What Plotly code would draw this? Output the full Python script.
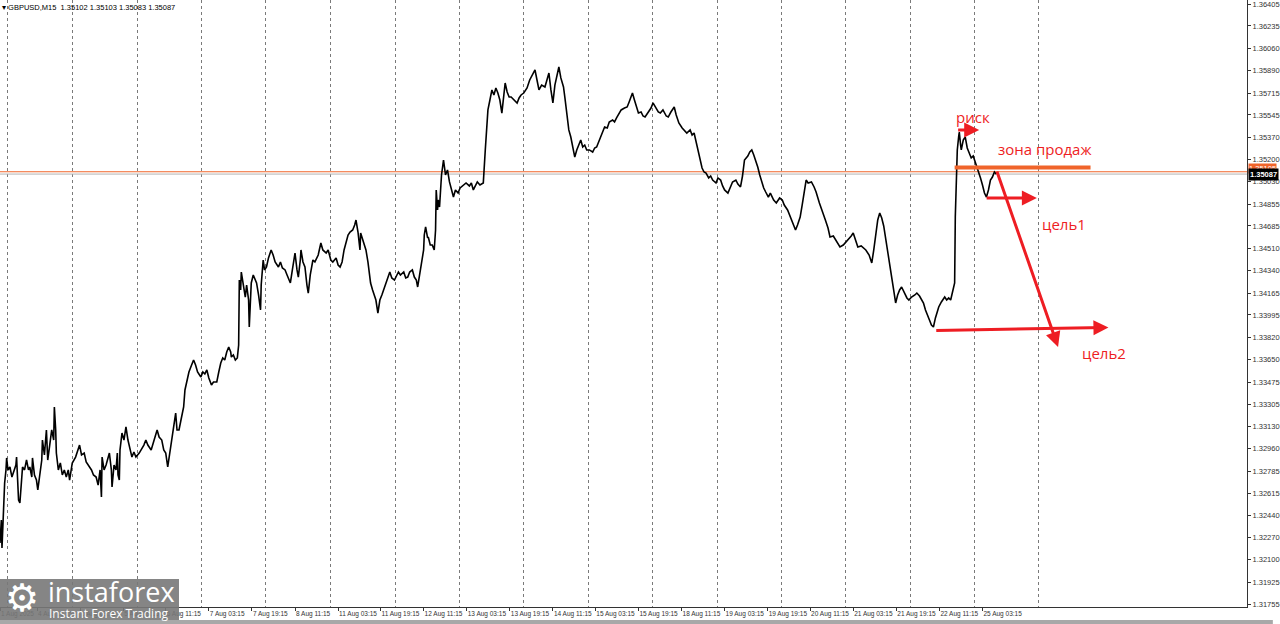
import plotly.graph_objects as go

# ---------------- data (bar index, close price) ----------------
bars = [0,2,3,4,6,7,9,10,12,15,18,21,24,25,27,28,30,31,34,37,40,43,45,48,49,52,55,57,60,63,64,67,70,72,75,78,81,82,84,85,
        88,91,94,97,100,103,105,108,109,114,117,120,123,127,130,135,138,141,145,148,151,153,154,157,160,165,168,169,172,175,
        177,178,180,181,184,187,190,193,196,199,202,205,210,213,217,220,223,228,232,237,240,244,247,250,253,255,259,262,265,267,
        270,273,277,279,282,285,289,292,295,298,303,306,309,312,315,319,322,327,330,333,336,339,342,345,348,349,352,355,358,360,
        361,363,364,367,370,372,375,376,378,379,382,385,387,390,393,394,397,399,402,405,409,412,415,420,423,426,430,433,438,441,
        444,445,448,450,453,454,457,460,463,465,468,472,475,480,484,487,492,495,499,502,507,510,513,516,519,522,525,528,532,535,
        537,540,543,544,547,552,555,559,562,565,567,570,573,576,580,583,588,591,595,598,601,604,609,612,615,618,622,625,628,630,
        633,636,637,639,640,642,645,646,649,652,655,657,658,660,661,663,666,669,672,675,678,681,684,687,691,694,699,703,708,711,
        714,717,720,724,729,732,735,736,739,742,745,748,751,754,757,760,762,765,768,771,775,780,783,786,790,795,799,802,807,810,
        813,817,822,825,828,831,834,837,840,843,846,850,852,855,858,861,864,867,870,873,876,879,882,885,889,894,897,900,904,909,
        912,916,919,924,927,930,934,937,942,946,949,954,957,960,963,967,970,973,978,982,985,990,993,996,1000,1005,1008,1012,1017,1020,
        1024,1029,1033,1036,1041,1044,1047,1051,1056,1059,1062,1065,1069,1072,1075,1080,1083,1087,1090,1093,1098,1101,1105,1110,1113,1117,
        1120,1123,1128,1131,1134,1137,1140,1143,1146,1149,1152,1155,1159,1162,1167,1171,1176,1180,1183,1188,1191,1195,1200,1203,1207,1210,
        1213,1216,1219,1224,1228,1231,1236,1239,1242,1245,1249,1252,1257,1261,1264,1267,1272,1275,1279,1284,1287,1291,1294,1299,1303,1306,
        1311,1315,1318,1321,1324,1327,1330,1333,1336,1339,1342,1345,1348,1351,1354,1357,1360,1365,1368,1371,1375,1380,1383,1387,1390,1393,
        1396,1399,1402,1405,1408,1411,1414,1416,1420,1425,1428,1431,1434,1437,1440,1441,1443,1444,1446,1447,1449,1450,1453,1456,1459,1462,
        1465,1468,1470,1473,1476,1479,1482,1485,1488,1491,1494,1497,1500,1503]

close = [1.32228,1.32406,1.32189,1.32329,1.32561,1.32693,1.32794,1.32887,1.32794,1.32817,1.32739,1.32794,1.32832,1.32894,1.32716,1.32561,1.32538,1.32600,1.32817,1.32794,
         1.32871,1.32794,1.32817,1.32739,1.32887,1.32755,1.32716,1.32639,1.32739,1.32871,1.33026,1.32910,1.33104,1.32871,1.32987,1.33104,1.33026,1.33282,1.33104,1.32925,
         1.32794,1.32848,1.32755,1.32794,1.32739,1.32794,1.32716,1.32794,1.32848,1.32894,1.32949,1.32987,1.32910,1.32925,1.32856,1.32817,1.32794,1.32755,1.32739,1.32677,
         1.32794,1.32584,1.32894,1.32794,1.32832,1.32925,1.32794,1.32662,1.32832,1.32794,1.32925,1.32755,1.32716,1.32949,1.33080,1.33026,1.33127,1.33026,1.32949,1.32894,
         1.32933,1.32894,1.32925,1.32949,1.32987,1.33026,1.32987,1.32949,1.33026,1.33104,1.33049,1.33026,1.32949,1.32925,1.32817,1.32887,1.33026,1.33142,1.33235,1.33104,
         1.33104,1.33181,1.33282,1.33414,1.33491,1.33553,1.33607,1.33646,1.33607,1.33553,1.33514,1.33553,1.33538,1.33569,1.33507,1.33452,1.33476,1.33476,1.33553,1.33623,
         1.33662,1.33646,1.33708,1.33747,1.33708,1.33669,1.33685,1.33646,1.33662,1.33762,1.34266,1.34189,1.34328,1.34227,1.34134,1.34227,1.34111,1.33902,1.34111,1.34243,
         1.34305,1.34266,1.34243,1.34150,1.34034,1.34227,1.34421,1.34344,1.34367,1.34437,1.34499,1.34460,1.34406,1.34367,1.34406,1.34359,1.34344,1.34305,1.34243,1.34344,
         1.34421,1.34475,1.34344,1.34289,1.34421,1.34499,1.34406,1.34367,1.34227,1.34165,1.34305,1.34421,1.34406,1.34460,1.34553,1.34499,1.34475,1.34499,1.34421,1.34406,
         1.34437,1.34382,1.34367,1.34406,1.34499,1.34553,1.34615,1.34638,1.34654,1.34692,1.34731,1.34638,1.34499,1.34630,1.34576,1.34499,1.34406,1.34243,1.34189,1.34150,
         1.34111,1.34010,1.34111,1.34150,1.34212,1.34266,1.34328,1.34282,1.34266,1.34297,1.34328,1.34305,1.34328,1.34282,1.34289,1.34328,1.34344,1.34289,1.34266,1.34212,
         1.34305,1.34406,1.34444,1.34499,1.34615,1.34677,1.34592,1.34599,1.34537,1.34537,1.34499,1.34654,1.34964,1.34809,1.34886,1.34832,1.35080,1.35196,1.35080,1.35119,
         1.35026,1.34964,1.34909,1.34964,1.34940,1.34979,1.35002,1.35018,1.34995,1.35018,1.34964,1.35002,1.35026,1.35002,1.35018,1.35274,1.35506,1.35584,1.35661,1.35739,
         1.35700,1.35754,1.35715,1.35661,1.35560,1.35700,1.35793,1.35723,1.35684,1.35684,1.35661,1.35638,1.35677,1.35700,1.35715,1.35754,1.35816,1.35847,1.35894,1.35816,
         1.35739,1.35777,1.35762,1.35816,1.35870,1.35739,1.35638,1.35777,1.35855,1.35917,1.35832,1.35762,1.35684,1.35529,1.35429,1.35374,1.35289,1.35219,1.35274,1.35312,
         1.35351,1.35297,1.35312,1.35274,1.35274,1.35258,1.35289,1.35297,1.35351,1.35405,1.35452,1.35444,1.35491,1.35506,1.35491,1.35522,1.35560,1.35584,1.35599,1.35607,
         1.35646,1.35715,1.35661,1.35599,1.35560,1.35568,1.35537,1.35529,1.35568,1.35599,1.35638,1.35599,1.35568,1.35560,1.35584,1.35537,1.35529,1.35568,1.35607,1.35545,
         1.35483,1.35444,1.35421,1.35405,1.35429,1.35390,1.35405,1.35312,1.35196,1.35134,1.35103,1.35095,1.35057,1.35072,1.35041,1.35018,1.35057,1.35041,1.34995,1.34964,
         1.34940,1.34979,1.35026,1.35041,1.35010,1.34987,1.35072,1.35196,1.35227,1.35258,1.35274,1.35235,1.35196,1.35142,1.35080,1.35018,1.34979,1.34948,1.34909,1.34940,
         1.34886,1.34863,1.34902,1.34886,1.34847,1.34809,1.34770,1.34716,1.34654,1.34692,1.34754,1.34847,1.34964,1.35041,1.35018,1.35026,1.34987,1.34948,1.34863,1.34824,
         1.34778,1.34731,1.34669,1.34599,1.34607,1.34576,1.34545,1.34522,1.34537,1.34553,1.34576,1.34607,1.34630,1.34576,1.34522,1.34530,1.34514,1.34499,1.34460,1.34398,
         1.34499,1.34599,1.34731,1.34785,1.34747,1.34685,1.34576,1.34499,1.34382,1.34289,1.34189,1.34088,1.34150,1.34189,1.34212,1.34165,1.34127,1.34111,1.34134,1.34150,
         1.34165,1.34142,1.34111,1.34088,1.34034,1.33987,1.33956,1.33917,1.33902,1.33972,1.34034,1.34057,1.34096,1.34134,1.34111,1.34127,1.34111,1.34173,1.34243,1.34754,
         1.35080,1.35274,1.35374,1.35413,1.35312,1.35274,1.35351,1.35374,1.35289,1.35250,1.35212,1.35227,1.35196,1.35157,1.35119,1.35057,1.35002,1.34940,1.34909,1.34964,
         1.35041,1.35064,1.35103,1.35087]

header_text = "GBPUSD,M15  1.35102 1.35103 1.35083 1.35087"
last_close = 1.35087
user_level = 1.35105

# right price scale labels
price_ticks = [1.36405, 1.36235, 1.36060, 1.35890, 1.35715, 1.35545, 1.35370, 1.35200, 1.35030, 1.34855,
               1.34685, 1.34510, 1.34340, 1.34165, 1.33995, 1.33820, 1.33650, 1.33475, 1.33305, 1.33130,
               1.32960, 1.32785, 1.32615, 1.32440, 1.32270, 1.32100, 1.31925, 1.31755]

# time scale labels (bar index, text)
time_tick_bars = [0, 56, 121, 186, 250, 315, 380, 445, 510, 574, 639, 704, 769, 834, 898, 963,
                  1028, 1093, 1158, 1222, 1287, 1352, 1417, 1482]
time_tick_text = ["1 Aug 2025", "4 Aug 11:15", "5 Aug 03:15", "5 Aug 19:15", "6 Aug 11:15", "7 Aug 03:15",
                  "7 Aug 19:15", "8 Aug 11:15", "11 Aug 03:15", "11 Aug 19:15", "12 Aug 11:15", "13 Aug 03:15",
                  "13 Aug 19:15", "14 Aug 11:15", "15 Aug 03:15", "15 Aug 19:15", "18 Aug 11:15", "19 Aug 03:15",
                  "19 Aug 19:15", "20 Aug 11:15", "21 Aug 03:15", "21 Aug 19:15", "22 Aug 11:15", "25 Aug 03:15"]

# vertical chart grid (bar index)
grid_bars = [12, 110, 207, 304, 401, 499, 596, 693, 790, 887, 984, 1082, 1179, 1276, 1373, 1470, 1567]

# hand-drawn trade plan objects
sell_zone_bars = [1440, 1645]
sell_zone_price = 1.35138
risk_bars = [1443, 1477]
risk_price = 1.35429
target1_bars = [1486, 1564]
target1_price = 1.34902
target2_bars = [1410, 1672]
target2_prices = [1.33875, 1.33898]
move_bars = [1503, 1596]
move_prices = [1.35119, 1.33747]

labels_text = ["риск", "зона продаж", "цель1", "цель2"]
labels_bars = [1467, 1575, 1605, 1666]
labels_prices = [1.35529, 1.35281, 1.34700, 1.33700]

X_RANGE = [0, 1881]
Y_RANGE = [1.31732, 1.36436]

RED = "#ee1d23"
ORANGE = "#f0642a"

fig = go.Figure()

# bid line and user horizontal line
fig.add_trace(go.Scatter(x=X_RANGE, y=[last_close, last_close], mode="lines",
                         line=dict(color="#b4b4b4", width=1), hoverinfo="skip", showlegend=False))
fig.add_trace(go.Scatter(x=X_RANGE, y=[user_level, user_level], mode="lines",
                         line=dict(color=ORANGE, width=1), hoverinfo="skip", showlegend=False))

# price line
fig.add_trace(go.Scatter(x=bars, y=close, mode="lines", line=dict(color="black", width=1.6),
                         showlegend=False))

# sell zone
fig.add_trace(go.Scatter(x=sell_zone_bars, y=[sell_zone_price, sell_zone_price], mode="lines",
                         line=dict(color=ORANGE, width=4), showlegend=False))

# invisible trace for the grid axis
fig.add_trace(go.Scatter(x=[X_RANGE[0]], y=[last_close], mode="markers", marker=dict(opacity=0),
                         xaxis="x2", hoverinfo="skip", showlegend=False))

def arrow(x0, y0, x1, y1):
    fig.add_annotation(x=x1, y=y1, ax=x0, ay=y0, xref="x", yref="y", axref="x", ayref="y",
                       showarrow=True, arrowhead=2, arrowsize=1, arrowwidth=3, arrowcolor=RED, text="")

arrow(risk_bars[0], risk_price, risk_bars[1], risk_price)
arrow(target1_bars[0], target1_price, target1_bars[1], target1_price)
arrow(target2_bars[0], target2_prices[0], target2_bars[1], target2_prices[1])
arrow(move_bars[0], move_prices[0], move_bars[1], move_prices[1])

for t, xb, yp in zip(labels_text, labels_bars, labels_prices):
    fig.add_annotation(x=xb, y=yp, xref="x", yref="y", text=t, showarrow=False,
                       font=dict(family="Open Sans", size=15, color=RED))

# header
fig.add_annotation(x=0, y=1, xref="paper", yref="paper", xanchor="left", yanchor="top",
                   text="▾ " + header_text, showarrow=False, yshift=-1,
                   font=dict(family="Liberation Sans", size=7.5, color="black"))

# current price labels on the scale
fig.add_annotation(x=1, y=user_level, xref="paper", yref="y", xanchor="left", yanchor="bottom",
                   text="%.5f" % user_level, showarrow=False, bgcolor=ORANGE, borderpad=0,
                   font=dict(family="Liberation Sans", size=7.5, color="white"), xshift=1, yshift=-2)
fig.add_annotation(x=1, y=last_close, xref="paper", yref="y", xanchor="left", yanchor="middle",
                   text="<b>%.5f</b>" % last_close, showarrow=False, bgcolor="black", borderpad=1,
                   font=dict(family="Liberation Sans", size=7.5, color="white"), xshift=1)

# logo
fig.add_shape(type="rect", xref="paper", yref="paper", x0=0, x1=180/1254, y0=-14/607, y1=28/607,
              fillcolor="rgba(120,120,120,0.9)", line=dict(width=0), layer="above")
fig.add_annotation(x=3/1254, y=9/607, xref="paper", yref="paper", xanchor="left", yanchor="middle",
                   text="⚙", showarrow=False, font=dict(family="DejaVu Sans", size=38, color="white"))
fig.add_annotation(x=46/1254, y=16/607, xref="paper", yref="paper", xanchor="left", yanchor="middle",
                   text="instaforex", showarrow=False, font=dict(family="Open Sans", size=27, color="white"))
fig.add_annotation(x=47/1254, y=-6/607, xref="paper", yref="paper", xanchor="left", yanchor="middle",
                   text="Instant Forex Trading", showarrow=False, font=dict(family="Open Sans", size=12, color="white"))

# bottom frame strip
fig.add_shape(type="rect", xref="paper", yref="paper", x0=0, x1=1280/1254, y0=-17/607, y1=-13/607,
              fillcolor="#a8a8a8", line=dict(width=0), layer="above")

fig.update_layout(
    width=1280, height=624,
    margin=dict(l=0, r=26, t=0, b=17),
    paper_bgcolor="white", plot_bgcolor="white",
    xaxis=dict(range=X_RANGE, tickvals=time_tick_bars, ticktext=time_tick_text, tickangle=0,
               ticklabelposition="outside right", ticks="outside", ticklen=3, tickcolor="#333",
               showgrid=False, zeroline=False, showline=True, linecolor="#333", linewidth=1,
               tickfont=dict(family="Liberation Sans", size=6.5, color="#333")),
    xaxis2=dict(range=X_RANGE, overlaying="x", side="bottom", showticklabels=False, ticks="",
                tickvals=grid_bars, showgrid=True, griddash="dot", gridcolor="#7a7a7a",
                gridwidth=1, zeroline=False, showline=False),
    yaxis=dict(range=Y_RANGE, side="right", tickvals=price_ticks, tickformat=".5f",
               ticks="outside", ticklen=3, tickcolor="#333", showgrid=False, zeroline=False,
               showline=True, linecolor="#333", linewidth=1, ticklabeloverflow="allow",
               tickfont=dict(family="Liberation Sans", size=7.5, color="#333")),
    showlegend=False,
)

fig.write_html("out.html", config={"displayModeBar": False},
               post_script="document.body.style.margin='0px';")
